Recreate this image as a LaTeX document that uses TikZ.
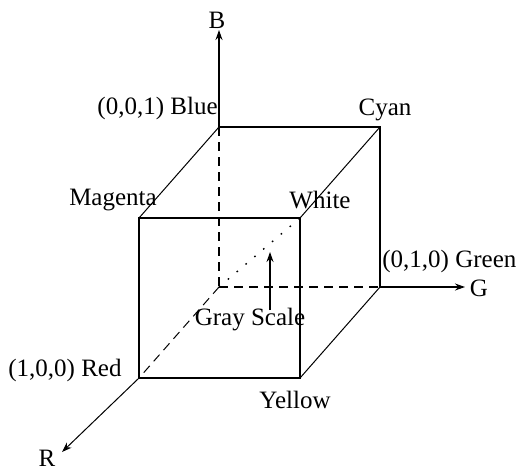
\documentclass[tikz,border=0pt]{standalone}
\usepackage{fontspec}
\setmainfont{Liberation Serif}
\usetikzlibrary{arrows.meta}
\begin{document}
\begin{tikzpicture}[x=0.5pt,y=-0.5pt,
  edge/.style={line width=0.75pt},
  diag/.style={line width=0.5pt},
  hidden/.style={line width=0.7pt, dash pattern=on 4.5pt off 3pt},
  hiddendiag/.style={line width=0.5pt, dash pattern=on 4.5pt off 3pt},
  graydots/.style={line width=0.7pt, dash pattern=on 0.8pt off 5pt},
  axis/.style={line width=0.6pt,-{Stealth[length=5pt,width=3.5pt]}},
  lbl/.style={font=\fontsize{12.5}{14}\selectfont, inner sep=0pt}]
\useasboundingbox (0,0) rectangle (517,472);
% cube vertices
\coordinate (K) at (219,287);   % black (origin)
\coordinate (Bl) at (219,127);  % blue
\coordinate (C) at (380,127);   % cyan
\coordinate (Gr) at (380,287);  % green
\coordinate (Rd) at (139,378);  % red
\coordinate (M) at (139,218);   % magenta
\coordinate (W) at (300,218);   % white
\coordinate (Y) at (300,378);   % yellow
% axis ends
\coordinate (Bend) at (219,30);
\coordinate (Gend) at (465,287);
\coordinate (Rend) at (62,452);
\coordinate (GSbot) at (270,310);
\coordinate (GStop) at (270,252);
% visible edges
\draw[edge] (M) rectangle (Y);
\draw[edge] (Bl) -- (C) -- (Gr);
\draw[diag] (M) -- (Bl);
\draw[diag] (C) -- (W);
\draw[diag] (Gr) -- (Y);
% hidden edges
\draw[hidden] (Bl) -- (K);
\draw[hidden] (K) -- (Gr);
\draw[hiddendiag] (K) -- (Rd);
% gray scale diagonal
\draw[graydots] (K) -- (W);
% axes
\draw[axis] (Bl) -- (Bend);
\draw[axis] (Gr) -- (Gend);
\draw[axis,line width=0.5pt] (Rd) -- (Rend);
\draw[axis] (GSbot) -- (GStop);
% labels
\node[lbl] (lB) at (217,20) {B};
\node[lbl] (lG) at (479,288) {G};
\node[lbl] (lR) at (47,458) {R};
\node[lbl,anchor=east] (lBlue) at (218,108) {(0,0,1) Blue};
\node[lbl] (lCyan) at (385,110) {Cyan};
\node[lbl] (lMag) at (113,200) {Magenta};
\node[lbl] (lWhite) at (320,200) {White};
\node[lbl,anchor=west] (lGreen) at (382,261) {(0,1,0) Green};
\node[lbl,anchor=west] (lRed) at (8,370) {(1,0,0) Red};
\node[lbl] (lYellow) at (295,400) {Yellow};
\node[lbl] (lGray) at (250,320) {Gray Scale};
\end{tikzpicture}
\end{document}
